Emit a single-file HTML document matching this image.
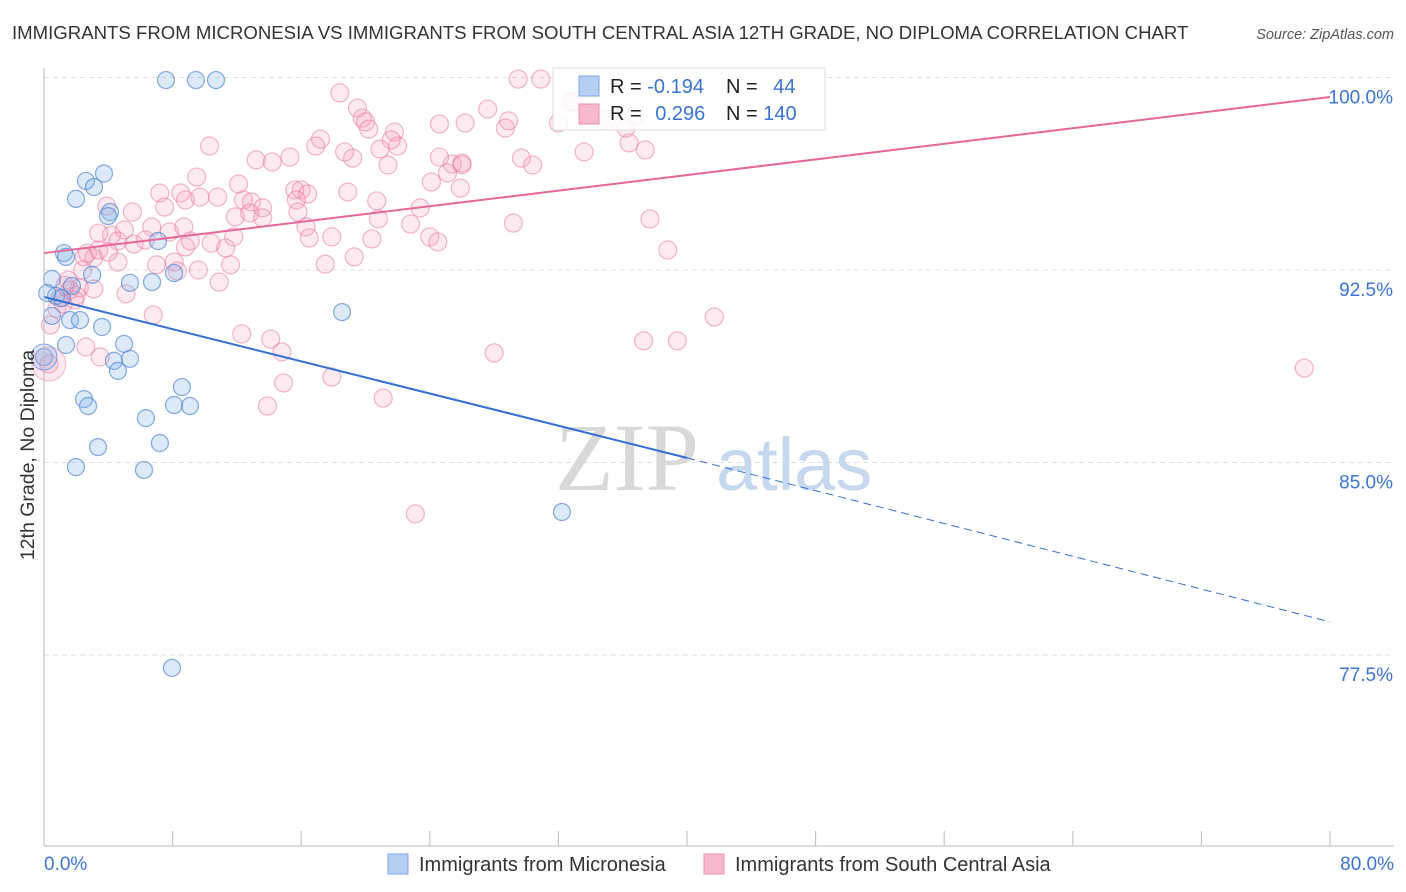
<!DOCTYPE html>
<html><head><meta charset="utf-8">
<style>
html,body{margin:0;padding:0;background:#fff;width:1406px;height:892px;overflow:hidden;font-family:"Liberation Sans",sans-serif;}
svg{display:block}
</style></head>
<body>
<svg id="chart" width="1406" height="892" xmlns="http://www.w3.org/2000/svg">
<text x="12" y="39" font-size="18.6" fill="#333" font-family="Liberation Sans, sans-serif">IMMIGRANTS FROM MICRONESIA VS IMMIGRANTS FROM SOUTH CENTRAL ASIA 12TH GRADE, NO DIPLOMA CORRELATION CHART</text>
<text x="1394" y="39" font-size="14.5" fill="#555" font-style="italic" text-anchor="end">Source: ZipAtlas.com</text>
<g id="grid"></g>
<g id="watermark">
<text x="555" y="490" font-size="96" fill="#d8d8d8" font-family="Liberation Serif, serif">ZIP</text>
<text x="716" y="490" font-size="74" fill="#c5d8ee" font-family="Liberation Sans, sans-serif">atlas</text>
</g>
<g id="pts"></g>
<g id="lines"></g>
<g id="axes"></g>
<text transform="translate(34,455) rotate(-90)" font-size="19.5" fill="#333" text-anchor="middle">12th Grade, No Diploma</text>
<g>
<rect x="553" y="68" width="272" height="62" fill="rgba(255,255,255,0.85)" stroke="#ddd"/>
<rect x="579" y="76" width="20" height="20" fill="#b5cff3" stroke="#7aa6e6"/>
<rect x="579" y="104" width="20" height="20" fill="#f7b8cc" stroke="#ec8fb0"/>
<text x="610" y="93" font-size="20" fill="#222">R = <tspan fill="#3a74d6">-0.194</tspan></text>
<text x="726" y="93" font-size="20" fill="#222">N = <tspan fill="#3a74d6" dx="10">44</tspan></text>
<text x="610" y="120" font-size="20" fill="#222">R = <tspan fill="#3a74d6" dx="8">0.296</tspan></text>
<text x="726" y="120" font-size="20" fill="#222">N = <tspan fill="#3a74d6">140</tspan></text>
</g>
<g>
<rect x="388" y="854" width="20" height="20" fill="#b5cff3" stroke="#7aa6e6"/>
<text x="419" y="871" font-size="20" fill="#333">Immigrants from Micronesia</text>
<rect x="704" y="854" width="20" height="20" fill="#f7b8cc" stroke="#ec8fb0"/>
<text x="735" y="871" font-size="20" fill="#333">Immigrants from South Central Asia</text>
</g>
</svg>
<script>
const blueX=[7.59,9.45,10.70,3.73,2.61,3.11,1.99,4.11,3.98,1.24,1.37,7.09,0.50,2.99,5.35,6.72,8.09,0.75,1.12,1.74,0.50,1.62,2.24,3.61,1.37,4.98,4.35,4.60,5.35,0,18.54,8.58,2.49,2.74,8.09,9.08,6.34,7.21,3.36,1.99,6.22,32.22,7.96,0.2];
const blueY=[99.90,99.90,99.90,96.26,95.97,95.73,95.27,94.76,94.60,93.16,93.01,93.63,92.15,92.31,92.00,92.03,92.38,91.49,91.41,91.88,90.71,90.55,90.55,90.28,89.58,89.62,88.96,88.57,89.04,89.11,90.86,87.94,87.47,87.20,87.24,87.20,86.73,85.76,85.60,84.82,84.71,83.07,77.00,91.6];
const pinkX=[29.5,30.9,18.4,19.5,27.6,32.8,19.8,20.0,20.2,24.6,26.2,28.7,28.9,32.0,33.0,35.0,36.2,36.7,36.4,37.4,33.6,29.7,30.4,24.6,25.4,26.0,25.1,24.1,25.9,21.8,22.0,21.6,20.9,21.4,19.2,18.7,17.2,16.9,15.3,13.2,14.2,10.3,12.1,9.5,7.2,8.5,8.8,9.7,10.8,12.4,12.9,13.6,15.6,16.0,16.4,15.7,18.9,20.7,23.4,22.8,20.8,15.8,13.6,11.9,12.8,7.5,5.5,3.9,5.0,4.2,3.4,4.6,5.6,6.3,6.7,7.8,8.7,8.8,9.1,10.4,11.3,11.8,3.4,2.7,2.5,3.1,4.6,7.0,8.1,8.3,9.6,11.6,10.9,2.4,2.2,1.6,3.1,5.1,1.0,1.9,1.2,6.8,16.3,16.5,17.9,20.4,19.3,17.5,24.0,24.5,29.2,37.7,38.8,12.3,14.1,14.8,14.9,13.9,17.9,21.1,23.1,28.0,37.3,39.4,41.7,78.4,0.3,0.4,3.5,2.6,1.3,2.0,0.8,1.5,4.0,26.0];
const pinkY=[99.94,99.94,99.40,98.81,98.77,99.05,98.42,98.27,97.99,98.19,98.23,98.03,98.31,98.23,99.05,98.34,98.03,98.46,97.45,97.18,97.10,96.86,96.59,96.90,96.63,96.67,96.28,95.93,95.69,97.88,97.33,97.57,97.21,96.59,96.86,97.10,97.60,97.33,96.90,96.79,96.71,97.33,95.85,96.12,95.50,95.50,95.23,95.34,95.34,95.23,95.15,94.92,95.62,95.62,95.46,95.23,95.54,95.19,94.92,94.29,94.49,94.76,94.53,94.57,94.72,94.95,94.76,94.99,94.06,93.86,93.94,93.63,93.51,93.67,94.18,93.98,94.18,93.40,93.63,93.55,93.36,93.79,93.28,93.16,93.01,92.97,92.81,92.70,92.81,92.46,92.50,92.70,92.03,92.50,91.80,91.72,91.76,91.57,91.41,91.33,91.18,90.75,94.18,93.75,93.79,93.71,93.01,92.73,93.79,93.59,94.33,94.49,93.28,90.01,89.81,89.31,88.10,87.20,88.33,87.51,83.0,89.27,89.74,89.74,90.67,88.68,88.84,90.36,89.11,89.50,91.9,91.5,91.0,92.1,93.2,96.6];
const yTicks=[100,92.5,85,77.5];
const yTickLabels=["100.0%","92.5%","85.0%","77.5%"];
const xTicks=[0,8,16,24,32,40,48,56,64,72,80];
const blueTrend=[[0,91.45],[40,85.18]];
const blueDash=[[40,85.18],[80,78.79]];
const pinkTrend=[[0,93.16],[80,99.24]];

const NS="http://www.w3.org/2000/svg";
const X0=44,X1=1330,Y100=77.5,PXPER=192.5/7.5;
function sx(v){return X0+(v/80)*(X1-X0);}
function sy(v){return Y100+(100-v)*PXPER;}
function mk(tag,attrs,parent){const e=document.createElementNS(NS,tag);for(const k in attrs)e.setAttribute(k,attrs[k]);parent.appendChild(e);return e;}
const grid=document.getElementById('grid'),axes=document.getElementById('axes'),pts=document.getElementById('pts'),lines=document.getElementById('lines');
yTicks.forEach((t,i)=>{
  const l=mk('line',{x1:X0,x2:1394,y1:sy(t),y2:sy(t),stroke:'#ddd','stroke-dasharray':'5,4'},grid);
  
  
  const tx=mk('text',{x:1393,y:sy(t)+26,'font-size':19,fill:'#3a74d6','text-anchor':'end'},axes);
  tx.textContent=yTickLabels[i];
  
  
});
const yax=mk('line',{x1:X0,x2:X0,y1:68,y2:846,stroke:'#bbb'},axes);


const xax=mk('line',{x1:X0,x2:1394,y1:846,y2:846,stroke:'#bbb'},axes);


xTicks.forEach(t=>{
  const l=mk('line',{x1:sx(t),x2:sx(t),y1:831,y2:846,stroke:'#bbb'},axes);
  
  
});
const xl0=mk('text',{x:44,y:870,'font-size':19,fill:'#3a74d6'},axes);xl0.textContent='0.0%';


const xl1=mk('text',{x:1394,y:870,'font-size':19,fill:'#3a74d6','text-anchor':'end'},axes);xl1.textContent='80.0%';



pinkX.forEach((v,i)=>{
  const c=mk('circle',{cx:sx(v),cy:sy(pinkY[i]),r:9,fill:'rgba(244,150,180,0.2)',stroke:'rgba(232,120,160,0.55)','stroke-width':1.2},pts);
  
  
});
blueX.forEach((v,i)=>{
  const c=mk('circle',{cx:sx(v),cy:sy(blueY[i]),r:8.5,fill:'rgba(130,175,235,0.28)',stroke:'rgba(80,135,215,0.7)','stroke-width':1.2},pts);
  
  
});
const big1=mk('circle',{cx:sx(0.3),cy:sy(88.84),r:17,fill:'rgba(244,150,180,0.22)',stroke:'rgba(232,120,160,0.55)'},pts);


const big2=mk('circle',{cx:sx(0),cy:sy(89.11),r:13,fill:'rgba(130,175,235,0.28)',stroke:'rgba(80,135,215,0.7)'},pts);



const bt=mk('line',{x1:sx(blueTrend[0][0]),y1:sy(blueTrend[0][1]),x2:sx(blueTrend[1][0]),y2:sy(blueTrend[1][1]),stroke:'#2f6fd6','stroke-width':2},lines);


const bd=mk('line',{x1:sx(blueDash[0][0]),y1:sy(blueDash[0][1]),x2:sx(blueDash[1][0]),y2:sy(blueDash[1][1]),stroke:'#2f6fd6','stroke-width':1,'stroke-dasharray':'8,5'},lines);


const pt=mk('line',{x1:sx(pinkTrend[0][0]),y1:sy(pinkTrend[0][1]),x2:sx(pinkTrend[1][0]),y2:sy(pinkTrend[1][1]),stroke:'#e8679a','stroke-width':2},lines);


</script>
</body></html>
